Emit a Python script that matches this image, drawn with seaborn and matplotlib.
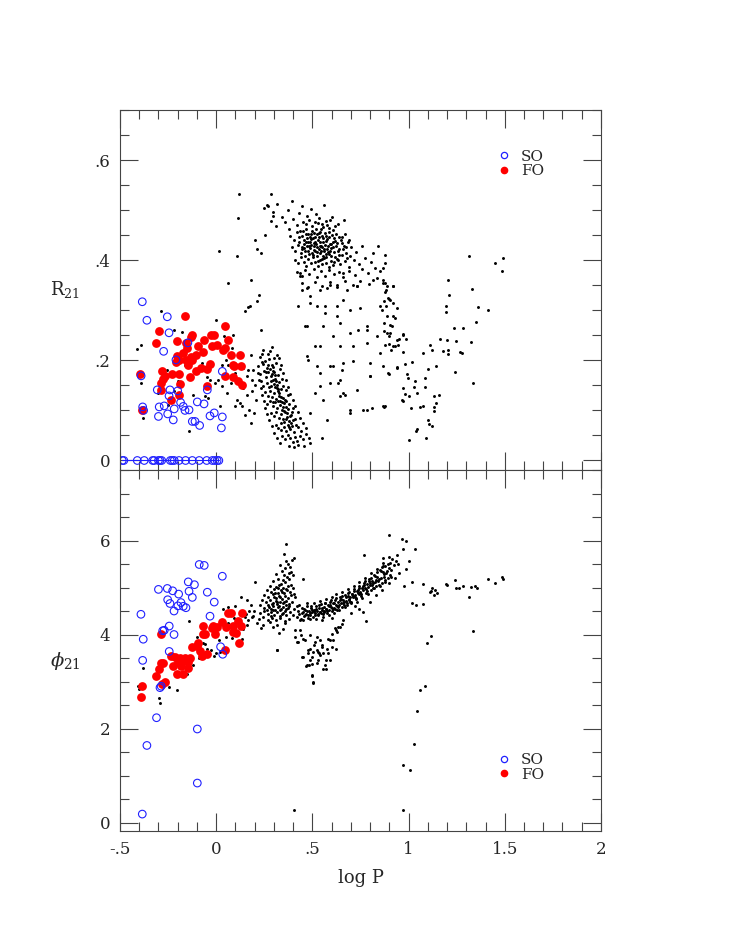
import numpy as np
import pandas as pd
import seaborn as sns
import matplotlib.pyplot as plt
from matplotlib.ticker import MultipleLocator, FuncFormatter
from matplotlib.lines import Line2D

# ---------------- top panel: R21 vs log P ----------------
# field stars (small black dots), read off the figure region by region
top_left = [(-0.41,0.223),(-0.392,0.231),(-0.39,0.155),(-0.382,0.085),(-0.287,0.299),(-0.179,0.257),
    (-0.14,0.059),(-0.197,0.158),(-0.218,0.138),(-0.257,0.181),(-0.11,0.18),(-0.075,0.195),(-0.049,0.167),
    (-0.032,0.161),(-0.006,0.155),(0.011,0.161),(0.028,0.148),(0.042,0.248),(0.063,0.191),(0.08,0.225),
    (0.098,0.108),(0.106,0.121),(0.124,0.115),(0.132,0.109),(0.138,0.145),(0.141,0.185),(0.15,0.091),
    (0.15,0.298),(0.159,0.168),(0.167,0.181),(0.176,0.308),(0.181,0.211),(0.184,0.161),(0.188,0.138),
    (0.02,0.108),(-0.058,0.128),(0.028,0.191),(-0.04,0.125),(0.05,0.2),(0.075,0.155),(0.1,0.175),
    (0.16,0.13),(0.17,0.1),(0.19,0.18),(0.2,0.15),(0.205,0.12),(0.195,0.095),(0.18,0.075),(0.115,0.485),
    (0.12,0.533),(0.015,0.419),(0.106,0.408),(0.063,0.355),(0.21,0.318),(0.167,0.307),(0.233,0.26),
    (0.202,0.441),(0.21,0.423),(0.231,0.415),(0.25,0.505),(0.262,0.511),(0.285,0.533),(0.297,0.488),
    (0.255,0.45),(0.225,0.33),(0.18,0.36),(-0.3,0.135),(-0.25,0.11),(-0.12,0.13),(-0.16,0.19),
    (-0.22,0.26),(-0.09,0.23),(0.0,0.28),(0.055,0.135),(0.09,0.25)]

top_band = [(0.243,0.221),(0.267,0.213),(0.291,0.226),(0.228,0.207),(0.256,0.199),(0.279,0.218),
    (0.302,0.204),(0.318,0.211),(0.219,0.188),(0.237,0.196),(0.262,0.185),(0.274,0.203),(0.288,0.191),
    (0.297,0.178),(0.311,0.195),(0.333,0.183),(0.226,0.172),(0.249,0.179),(0.258,0.166),(0.271,0.176),
    (0.283,0.169),(0.293,0.187),(0.305,0.163),(0.322,0.171),(0.341,0.162),(0.234,0.158),(0.246,0.148),
    (0.266,0.155),(0.277,0.147),(0.286,0.159),(0.299,0.152),(0.308,0.171),(0.314,0.144),(0.327,0.156),
    (0.346,0.149),(0.361,0.141),(0.252,0.136),(0.269,0.129),(0.281,0.139),(0.292,0.127),(0.303,0.135),
    (0.311,0.122),(0.319,0.138),(0.328,0.129),(0.337,0.142),(0.349,0.124),(0.372,0.131),(0.263,0.112),
    (0.279,0.118),(0.294,0.109),(0.306,0.116),(0.317,0.104),(0.324,0.119),(0.333,0.111),(0.342,0.101),
    (0.351,0.114),(0.363,0.106),(0.381,0.113),(0.399,0.104),(0.284,0.094),(0.301,0.088),(0.313,0.097),
    (0.326,0.085),(0.338,0.093),(0.347,0.082),(0.356,0.096),(0.367,0.087),(0.378,0.079),(0.389,0.091),
    (0.411,0.083),(0.309,0.071),(0.322,0.064),(0.336,0.074),(0.352,0.066),(0.361,0.058),(0.372,0.071),
    (0.384,0.062),(0.396,0.069),(0.407,0.056),(0.423,0.066),(0.442,0.059),(0.341,0.049),(0.358,0.042),
    (0.371,0.051),(0.386,0.045),(0.397,0.036),(0.409,0.047),(0.421,0.039),(0.436,0.048),(0.452,0.042),
    (0.468,0.053),(0.379,0.029),(0.402,0.026),(0.427,0.031),(0.455,0.028),(0.489,0.034),(0.298,0.161),
    (0.305,0.146),(0.318,0.151),(0.325,0.134),(0.331,0.119),(0.339,0.126),(0.346,0.107),(0.355,0.099),
    (0.362,0.118),(0.369,0.094),(0.374,0.102),(0.388,0.074),(0.392,0.097),(0.401,0.081),(0.289,0.173),
    (0.281,0.183),(0.272,0.191),(0.301,0.176),(0.311,0.158),(0.321,0.143),(0.343,0.116),(0.356,0.121),
    (0.364,0.083),(0.383,0.088),(0.376,0.067),(0.415,0.071),(0.352,0.076),(0.339,0.061),(0.297,0.116),
    (0.287,0.148),(0.258,0.176),(0.246,0.192),(0.238,0.212),(0.215,0.175),(0.222,0.16),(0.231,0.145),
    (0.238,0.13),(0.247,0.118),(0.255,0.104),(0.266,0.092),(0.276,0.08),(0.29,0.068),(0.301,0.055),
    (0.318,0.045),(0.33,0.035),(0.326,0.205),(0.338,0.19),(0.35,0.175),(0.362,0.16),(0.375,0.146),
    (0.386,0.133),(0.398,0.12),(0.41,0.108),(0.423,0.097),(0.436,0.085),(0.451,0.075),(0.465,0.064),
    (0.48,0.045)]

top_cluster = [(0.268,0.509),(0.297,0.496),(0.318,0.513),(0.341,0.487),(0.374,0.501),(0.392,0.518),
    (0.428,0.494),(0.447,0.508),(0.471,0.489),(0.493,0.503),(0.521,0.492),(0.563,0.511),(0.602,0.486),
    (0.283,0.478),(0.309,0.469),(0.356,0.476),(0.379,0.463),(0.401,0.482),(0.418,0.471),(0.437,0.458),
    (0.452,0.476),(0.466,0.463),(0.481,0.481),(0.497,0.468),(0.509,0.455),(0.528,0.474),(0.544,0.462),
    (0.571,0.478),(0.589,0.465),(0.634,0.472),(0.662,0.481),(0.384,0.449),(0.407,0.441),(0.421,0.456),
    (0.433,0.437),(0.445,0.449),(0.458,0.441),(0.469,0.453),(0.477,0.436),(0.486,0.447),(0.494,0.431),
    (0.503,0.444),(0.513,0.437),(0.522,0.452),(0.531,0.441),(0.539,0.429),(0.548,0.448),(0.557,0.436),
    (0.566,0.455),(0.578,0.443),(0.591,0.432),(0.603,0.451),(0.617,0.439),(0.636,0.447),(0.652,0.434),
    (0.671,0.452),(0.693,0.441),(0.396,0.426),(0.412,0.419),(0.426,0.431),(0.439,0.414),(0.448,0.427),
    (0.461,0.418),(0.472,0.429),(0.481,0.412),(0.489,0.424),(0.498,0.415),(0.507,0.428),(0.516,0.419),
    (0.526,0.409),(0.533,0.423),(0.542,0.414),(0.551,0.427),(0.561,0.418),(0.569,0.406),(0.576,0.422),
    (0.587,0.413),(0.598,0.425),(0.611,0.416),(0.624,0.428),(0.639,0.411),(0.657,0.423),(0.676,0.414),
    (0.702,0.426),(0.728,0.417),(0.757,0.429),(0.408,0.401),(0.423,0.394),(0.441,0.406),(0.456,0.397),
    (0.467,0.389),(0.479,0.403),(0.492,0.394),(0.504,0.407),(0.515,0.396),(0.527,0.388),(0.538,0.401),
    (0.549,0.392),(0.559,0.404),(0.572,0.395),(0.584,0.386),(0.596,0.399),(0.609,0.391),(0.627,0.403),
    (0.645,0.392),(0.668,0.398),(0.689,0.387),(0.714,0.401),(0.741,0.393),(0.772,0.404),(0.803,0.396),
    (0.421,0.376),(0.444,0.369),(0.462,0.381),(0.485,0.372),(0.506,0.383),(0.524,0.367),(0.547,0.378),
    (0.568,0.369),(0.589,0.381),(0.612,0.372),(0.638,0.376),(0.661,0.366),(0.692,0.379),(0.721,0.371),
    (0.756,0.382),(0.788,0.374),(0.823,0.385),(0.851,0.378),(0.448,0.354),(0.476,0.347),(0.513,0.357),
    (0.552,0.349),(0.593,0.356),(0.627,0.346),(0.668,0.358),(0.709,0.351),(0.748,0.359),(0.792,0.352),
    (0.838,0.364),(0.455,0.433),(0.463,0.409),(0.487,0.437),(0.495,0.452),(0.511,0.421),(0.518,0.433),
    (0.529,0.398),(0.536,0.446),(0.545,0.419),(0.553,0.408),(0.564,0.431),(0.573,0.448),(0.582,0.428),
    (0.593,0.419),(0.605,0.437),(0.618,0.407),(0.631,0.419),(0.647,0.441),(0.478,0.419),(0.502,0.411),
    (0.519,0.462),(0.541,0.456),(0.557,0.467),(0.433,0.446),(0.444,0.422),(0.471,0.444),(0.584,0.457),
    (0.609,0.461),(0.622,0.452),(0.664,0.429),(0.683,0.436),(0.698,0.409),(0.452,0.458),(0.468,0.437),
    (0.476,0.452),(0.491,0.442),(0.499,0.459),(0.508,0.434),(0.514,0.447),(0.523,0.427),(0.532,0.455),
    (0.538,0.437),(0.547,0.429),(0.555,0.444),(0.562,0.423),(0.571,0.439),(0.579,0.417),(0.588,0.446),
    (0.596,0.432),(0.606,0.426),(0.614,0.444),(0.626,0.434),(0.641,0.423),(0.655,0.447),(0.674,0.426),
    (0.459,0.425),(0.484,0.428),(0.526,0.416),(0.548,0.403),(0.573,0.413),(0.597,0.408),(0.612,0.396),
    (0.635,0.4),(0.652,0.41),(0.679,0.405),(0.466,0.472),(0.512,0.476),(0.535,0.484),(0.552,0.473),
    (0.578,0.471),(0.594,0.48),(0.618,0.469)]

top_arc = [(0.436,0.368),(0.47,0.345),(0.488,0.328),(0.54,0.341),(0.574,0.345),(0.626,0.351),(0.678,0.341),
    (0.73,0.348),(0.817,0.361),(0.869,0.355),(0.921,0.348),(0.427,0.308),(0.522,0.308),(0.566,0.295),
    (0.626,0.308),(0.695,0.301),(0.747,0.305),(0.851,0.308),(0.886,0.288),(0.47,0.268),(0.557,0.268),
    (0.643,0.275),(0.695,0.255),(0.739,0.261),(0.782,0.268),(0.834,0.248),(0.903,0.255),(0.514,0.228),
    (0.609,0.248),(0.643,0.228),(0.713,0.228),(0.782,0.235),(0.851,0.215),(0.921,0.228),(0.479,0.201),
    (0.54,0.175),(0.591,0.188),(0.661,0.195),(0.713,0.198),(0.799,0.195),(0.869,0.188),(0.54,0.148),
    (0.591,0.155),(0.643,0.161),(0.661,0.135),(0.73,0.141),(0.799,0.168),(0.557,0.121),(0.643,0.128),
    (0.695,0.101),(0.782,0.101),(0.869,0.108),(0.938,0.241),(0.488,0.095),(0.548,0.045),(0.47,0.208),
    (0.513,0.135),(0.574,0.081),(0.522,0.188),(0.609,0.188),(0.652,0.181),(0.669,0.131),(0.635,0.155),
    (0.695,0.095),(0.765,0.101),(0.808,0.105),(0.878,0.108),(0.799,0.168),(0.895,0.175),(0.973,0.251),
    (0.921,0.315),(0.886,0.348),(0.817,0.415),(0.843,0.428),(0.462,0.268),(0.54,0.228),(0.626,0.288),
    (0.661,0.321),(0.782,0.261),(0.86,0.301),(0.73,0.348),(0.566,0.308),(0.488,0.315),(0.444,0.341),
    (0.436,0.375),(0.592,0.351),(0.661,0.375)]

top_right = [(1.316,0.409),(1.492,0.405),(1.449,0.395),(1.484,0.378),(1.203,0.361),(1.328,0.343),
    (1.208,0.33),(1.193,0.308),(1.193,0.296),(1.362,0.307),(1.411,0.3),(1.349,0.277),(1.236,0.265),
    (1.283,0.265),(1.324,0.236),(1.245,0.238),(1.201,0.24),(1.163,0.242),(1.111,0.231),(1.123,0.221),
    (1.073,0.215),(1.18,0.219),(1.205,0.213),(1.205,0.22),(1.266,0.217),(1.276,0.214),(1.243,0.176),
    (1.335,0.155),(1.143,0.188),(1.103,0.183),(1.085,0.165),(1.016,0.196),(0.981,0.193),(0.941,0.185),
    (0.897,0.173),(0.99,0.173),(0.998,0.165),(1.033,0.158),(1.085,0.146),(1.03,0.146),(0.973,0.145),
    (1.042,0.135),(1.003,0.128),(0.981,0.132),(1.132,0.129),(1.16,0.13),(1.143,0.115),(0.964,0.12),
    (0.972,0.119),(1.133,0.106),(1.075,0.109),(1.011,0.105),(1.06,0.107),(1.133,0.098),(0.874,0.107),
    (1.103,0.08),(1.108,0.073),(1.121,0.068),(1.044,0.063),(1.037,0.058),(1.002,0.041),(1.089,0.045),
    (0.876,0.411),(0.876,0.395),(0.869,0.385),(0.865,0.36),(0.88,0.354),(0.917,0.348),(0.882,0.34),
    (0.879,0.337),(0.892,0.325),(0.897,0.323),(0.905,0.32),(0.873,0.318),(0.882,0.308),(0.941,0.305),
    (0.917,0.288),(0.93,0.285),(0.87,0.274),(0.905,0.27),(0.912,0.268),(0.872,0.258),(0.886,0.255),
    (0.969,0.252),(0.9,0.248),(0.986,0.243),(0.95,0.243),(0.88,0.23),(0.9,0.233),(0.93,0.229),
    (0.945,0.23),(0.908,0.221),(0.969,0.217),(0.938,0.186)]

# second overtone (SO) and first overtone (FO) stars
top_so = [(-0.384,0.317),(-0.36,0.28),(-0.254,0.287),(-0.245,0.255),(-0.273,0.218),(-0.209,0.201),
    (-0.147,0.235),(-0.39,0.169),(0.032,0.178),(-0.306,0.141),(-0.24,0.141),(-0.2,0.139),(-0.245,0.129),
    (-0.046,0.141),(-0.382,0.107),(-0.377,0.1),(-0.296,0.107),(-0.27,0.109),(-0.218,0.103),(-0.185,0.116),
    (-0.171,0.108),(-0.162,0.1),(-0.141,0.101),(-0.098,0.117),(-0.063,0.113),(-0.3,0.088),(-0.252,0.093),
    (-0.223,0.081),(-0.124,0.078),(-0.11,0.078),(-0.086,0.07),(-0.032,0.089),(-0.01,0.095),(0.032,0.087),
    (0.027,0.065)]
top_so_zero_logp = [-0.488,-0.48,-0.41,-0.374,-0.33,-0.322,-0.3,-0.292,-0.283,-0.238,-0.228,-0.218,
    -0.193,-0.159,-0.124,-0.088,-0.049,-0.02,-0.007,0.005,0.014]

top_fo = [(-0.16,0.288),(-0.297,0.258),(-0.314,0.235),(-0.202,0.238),(-0.127,0.25),(-0.131,0.246),
    (-0.159,0.235),(-0.065,0.241),(-0.01,0.251),(-0.029,0.25),(0.046,0.269),(0.063,0.24),(0.003,0.231),
    (-0.02,0.228),(-0.093,0.228),(-0.152,0.225),(0.037,0.221),(0.046,0.225),(-0.067,0.217),(-0.107,0.211),
    (-0.131,0.207),(-0.173,0.215),(-0.204,0.208),(-0.192,0.201),(-0.21,0.196),(-0.155,0.201),(-0.124,0.201),
    (-0.148,0.191),(0.075,0.211),(0.122,0.21),(-0.032,0.193),(-0.046,0.183),(-0.077,0.185),(-0.107,0.179),
    (-0.136,0.167),(-0.193,0.173),(-0.228,0.173),(-0.283,0.178),(-0.266,0.169),(-0.278,0.163),
    (-0.288,0.155),(-0.287,0.141),(-0.394,0.173),(-0.387,0.101),(-0.188,0.153),(-0.192,0.131),
    (-0.236,0.121),(-0.049,0.149),(0.046,0.168),(0.086,0.191),(0.094,0.189),(0.127,0.189),(0.086,0.167),
    (0.115,0.159),(0.133,0.151)]

# ---------------- bottom panel: phi21 vs log P ----------------
bot_left = [(-0.408,2.9),(-0.4,2.85),(-0.382,3.29),(-0.296,2.64),(-0.29,2.55),(-0.244,2.89),(-0.202,2.81),
    (-0.14,4.28),(-0.07,3.83),(-0.06,3.8),(-0.029,3.67),(-0.01,3.55),(0.0,3.6),(0.015,3.88),(0.02,3.62),
    (0.037,4.55),(0.063,4.59),(0.1,4.6),(0.095,4.35),(0.131,4.79),(0.158,4.73),(0.12,4.3),(0.15,4.38),
    (0.133,3.91),(0.1,4.0),(0.08,3.92),(-0.153,3.15),(-0.12,3.35),(-0.09,3.5),(-0.05,3.7),(0.05,3.95),
    (0.17,4.5),(0.19,4.4),(0.16,4.2),(0.14,4.12),(0.18,4.62),(-0.2,3.55),(-0.1,3.95),(0.06,4.25)]

bot_cluster = [(0.364,5.92),(0.353,5.71),(0.405,5.62),(0.362,5.56),(0.392,5.58),(0.334,5.47),(0.371,5.51),
    (0.383,5.43),(0.344,5.36),(0.358,5.41),(0.391,5.34),(0.312,5.28),(0.352,5.26),(0.377,5.31),(0.401,5.27),
    (0.323,5.19),(0.346,5.16),(0.366,5.22),(0.381,5.18),(0.453,5.19),(0.202,5.12),(0.297,5.13),(0.336,5.08),
    (0.359,5.12),(0.388,5.06),(0.281,5.04),(0.309,5.01),(0.327,5.06),(0.348,4.99),(0.371,5.03),(0.397,4.98),
    (0.262,4.95),(0.287,4.91),(0.303,4.97),(0.322,4.89),(0.338,4.94),(0.353,4.88),(0.369,4.95),(0.386,4.9),
    (0.404,4.86),(0.248,4.84),(0.272,4.8),(0.294,4.86),(0.311,4.78),(0.326,4.83),(0.341,4.76),(0.356,4.82),
    (0.374,4.78),(0.391,4.84),(0.412,4.79),(0.236,4.74),(0.259,4.69),(0.279,4.73),(0.296,4.67),(0.309,4.72),
    (0.318,4.64),(0.331,4.7),(0.347,4.66),(0.362,4.71),(0.378,4.65),(0.396,4.7),(0.226,4.62),(0.247,4.57),
    (0.268,4.62),(0.283,4.55),(0.297,4.6),(0.306,4.53),(0.319,4.58),(0.334,4.52),(0.349,4.59),(0.363,4.54),
    (0.381,4.6),(0.402,4.55),(0.418,4.61),(0.198,4.49),(0.229,4.45),(0.251,4.5),(0.268,4.43),(0.286,4.48),
    (0.301,4.41),(0.317,4.47),(0.331,4.4),(0.346,4.46),(0.362,4.42),(0.383,4.48),(0.397,4.41),(0.188,4.37),
    (0.221,4.32),(0.246,4.38),(0.272,4.31),(0.292,4.36),(0.313,4.3),(0.334,4.35),(0.357,4.29),(0.379,4.34),
    (0.211,4.24),(0.243,4.2),(0.278,4.26),(0.318,4.21),(0.358,4.24),(0.232,4.13),(0.298,4.16),(0.347,4.11),
    (0.329,4.04),(0.318,3.67),(0.168,4.3),(0.157,4.43),(0.302,4.79),(0.315,4.69),(0.325,4.61),(0.338,4.55),
    (0.289,4.65),(0.276,4.58),(0.352,4.69),(0.365,4.63),(0.305,4.88),(0.332,4.8),(0.344,4.9),(0.361,4.97),
    (0.321,4.99),(0.295,4.52),(0.341,4.44),(0.358,4.51),(0.373,4.56),(0.283,4.4),(0.262,4.52)]

bot_band = [(0.418,4.38),(0.426,4.51),(0.432,4.44),(0.439,4.33),(0.445,4.57),(0.451,4.47),(0.457,4.39),
    (0.463,4.53),(0.468,4.44),(0.474,4.61),(0.479,4.35),(0.484,4.49),(0.489,4.42),(0.494,4.56),(0.499,4.47),
    (0.504,4.38),(0.509,4.53),(0.513,4.45),(0.518,4.61),(0.523,4.5),(0.528,4.41),(0.533,4.56),(0.538,4.48),
    (0.543,4.64),(0.548,4.52),(0.553,4.43),(0.558,4.59),(0.563,4.5),(0.568,4.67),(0.573,4.55),(0.578,4.46),
    (0.583,4.62),(0.588,4.53),(0.593,4.7),(0.598,4.58),(0.603,4.49),(0.608,4.66),(0.613,4.57),(0.618,4.74),
    (0.623,4.62),(0.628,4.53),(0.633,4.7),(0.638,4.63),(0.643,4.79),(0.648,4.67),(0.653,4.58),(0.658,4.74),
    (0.663,4.69),(0.668,4.84),(0.673,4.72),(0.678,4.63),(0.683,4.81),(0.688,4.75),(0.693,4.9),(0.698,4.79),
    (0.703,4.7),(0.708,4.87),(0.713,4.82),(0.718,4.96),(0.723,4.85),(0.728,4.76),(0.733,4.93),(0.738,4.88),
    (0.743,5.03),(0.748,4.91),(0.753,4.82),(0.758,5.0),(0.763,4.95),(0.768,5.1),(0.773,4.98),(0.778,4.88),
    (0.783,5.07),(0.789,5.02),(0.794,5.18),(0.799,5.05),(0.804,4.95),(0.81,5.14),(0.816,5.09),(0.821,5.27),
    (0.827,5.12),(0.833,5.03),(0.838,5.23),(0.844,5.18),(0.85,5.37),(0.856,5.21),(0.862,5.1),(0.867,5.33),
    (0.873,5.28),(0.879,5.46),(0.885,5.3),(0.891,5.2),(0.897,5.42),(0.903,5.52),(0.909,5.38),(0.916,5.6),
    (0.924,5.47),(0.933,5.56),(0.945,5.5),(0.47,4.51),(0.49,4.46),(0.51,4.49),(0.52,4.54),(0.54,4.47),
    (0.55,4.57),(0.57,4.55),(0.585,4.6),(0.6,4.57),(0.615,4.67),(0.63,4.61),(0.645,4.73),(0.66,4.66),
    (0.675,4.8),(0.69,4.73),(0.705,4.86),(0.72,4.8),(0.735,4.95),(0.75,4.88),(0.765,5.04),(0.78,4.96),
    (0.795,5.13),(0.81,5.05),(0.825,5.24),(0.84,5.13),(0.855,5.36),(0.87,5.22),(0.445,4.46),(0.46,4.42),
    (0.5,4.52),(0.53,4.44),(0.56,4.48),(0.59,4.63),(0.62,4.55),(0.65,4.76),(0.68,4.67),(0.71,4.79),
    (0.74,4.87),(0.77,5.06),(0.8,5.1),(0.83,5.16),(0.86,5.44),(0.89,5.35),(0.77,5.69),(0.865,5.62),
    (0.9,6.11),(0.964,6.03),(0.985,5.99),(0.973,5.83),(1.033,5.81),(1.002,5.56),(0.985,5.4),(0.94,5.7),
    (0.765,4.48),(0.779,4.29),(0.652,4.22),(0.66,4.3),(0.622,4.09),(0.7,4.45),(0.74,4.55),(0.8,4.7),
    (0.83,4.85),(0.86,4.95),(0.9,5.1),(0.93,5.2),(0.6,4.35),(0.55,4.3),(0.72,4.6),(0.95,5.3),
    (0.43,4.62),(0.45,4.3),(0.47,4.66),(0.49,4.33),(0.51,4.68),(0.52,4.34),(0.54,4.71),(0.555,4.38),
    (0.57,4.76),(0.585,4.42),(0.6,4.8),(0.61,4.45),(0.625,4.86),(0.64,4.52),(0.655,4.9),(0.67,4.58),
    (0.685,4.97),(0.7,4.66),(0.715,5.04),(0.73,4.7),(0.745,5.12),(0.76,4.78),(0.775,5.2),(0.79,4.86),
    (0.805,5.3),(0.82,4.98),(0.835,5.4),(0.85,5.04),(0.865,5.52),(0.88,5.12),(0.9,5.64),(0.91,5.22),
    (0.455,4.55),(0.475,4.41),(0.495,4.6),(0.515,4.42),(0.535,4.63),(0.545,4.45),(0.565,4.66),(0.575,4.5),
    (0.595,4.73),(0.605,4.54),(0.625,4.77),(0.635,4.58),(0.655,4.82),(0.665,4.62),(0.685,4.88),(0.695,4.7),
    (0.715,4.93),(0.725,4.78),(0.745,4.98),(0.755,4.86),(0.775,5.14),(0.785,4.93),(0.805,5.2),(0.815,5.0),
    (0.835,5.32),(0.845,5.06),(0.865,5.46),(0.875,5.17),(0.895,5.5),(0.905,5.27)]

bot_arm = [(0.505,2.99),(0.5,3.11),(0.467,3.33),(0.557,3.26),(0.569,3.26),(0.488,3.45),(0.531,3.45),
    (0.583,3.6),(0.6,3.74),(0.609,3.88),(0.626,4.06),(0.643,4.16),(0.444,3.52),(0.479,3.67),(0.462,3.88),
    (0.439,3.99),(0.418,3.84),(0.41,4.09),(0.522,3.67),(0.548,3.77),(0.496,3.52),(0.54,3.56),(0.574,3.7),
    (0.592,3.88),(0.514,3.84),(0.488,3.99),(0.474,3.35),(0.526,3.4),(0.536,3.6),(0.496,3.38),(0.436,4.3),
    (0.436,4.09),(0.41,3.95),(0.453,3.91),(0.427,3.84),(0.488,3.7),(0.522,3.95),(0.54,3.88),(0.508,3.77),
    (0.548,3.74),(0.583,3.91),(0.6,4.02),(0.618,4.13),(0.635,4.16),(0.453,3.52),(0.479,3.6),(0.505,3.63),
    (0.531,3.63),(0.557,3.6),(0.571,3.45),(0.592,3.45),(0.623,3.7),(0.484,3.35),(0.566,3.35),(0.496,3.13),
    (0.505,2.97),(0.314,3.67)]

bot_right = [(1.016,5.12),(0.978,5.03),(1.076,5.08),(1.12,4.98),(1.115,4.93),(1.132,4.84),(1.14,4.95),
    (1.11,4.9),(1.15,4.88),(1.194,5.07),(1.2,5.05),(1.241,5.16),(1.245,5.0),(1.26,4.99),(1.284,5.03),
    (1.323,5.01),(1.345,5.03),(1.355,5.0),(1.414,5.18),(1.449,5.1),(1.484,5.23),(1.49,5.18),(1.016,4.67),
    (1.04,4.62),(1.076,4.65),(1.316,4.79),(1.117,3.96),(1.094,3.81),(1.336,4.07),(1.088,2.91),(1.062,2.83),
    (1.045,2.37),(1.03,1.67),(0.973,1.22),(1.008,1.11),(0.969,0.26),(0.404,0.26)]

bot_so = [(-0.088,5.49),(-0.062,5.47),(0.032,5.24),(-0.145,5.12),(-0.113,5.06),(-0.3,4.96),(-0.254,4.98),
    (-0.226,4.93),(-0.195,4.86),(-0.141,4.92),(-0.046,4.9),(-0.124,4.79),(-0.252,4.74),(-0.24,4.66),
    (-0.183,4.68),(-0.199,4.61),(-0.171,4.6),(-0.157,4.57),(-0.219,4.5),(-0.01,4.69),(-0.391,4.43),
    (-0.032,4.39),(-0.27,4.09),(-0.244,4.18),(-0.278,4.08),(-0.219,4.0),(-0.379,3.9),(-0.244,3.64),
    (-0.382,3.45),(0.023,3.74),(0.034,3.58),(-0.292,2.87),(-0.286,2.9),(-0.31,2.23),(-0.098,1.99),
    (-0.36,1.64),(-0.098,0.84),(-0.384,0.18)]

bot_fo = [(-0.288,4.01),(-0.067,4.18),(-0.07,4.01),(-0.018,4.18),(-0.006,4.01),(0.002,4.16),(0.032,4.27),
    (0.051,4.16),(0.063,4.46),(0.075,4.46),(0.133,4.45),(0.112,4.28),(0.089,4.18),(0.127,4.18),(0.089,4.06),
    (0.12,3.82),(0.046,3.67),(-0.049,3.58),(-0.093,3.81),(-0.101,3.76),(-0.127,3.74),(-0.084,3.64),
    (-0.076,3.54),(-0.236,3.54),(-0.214,3.52),(-0.188,3.51),(-0.162,3.51),(-0.136,3.51),(-0.171,3.45),
    (-0.197,3.42),(-0.145,3.42),(-0.226,3.33),(-0.183,3.33),(-0.205,3.17),(-0.174,3.17),(-0.148,3.28),
    (-0.287,3.4),(-0.278,3.4),(-0.297,3.26),(-0.314,3.11),(-0.283,2.94),(-0.266,3.0),(-0.387,2.9),
    (-0.393,2.67),(-0.024,4.14),(-0.058,4.02),(0.101,4.03)]


def to_df(pairs):
    return pd.DataFrame(pairs, columns=["logP", "val"])


top_field = to_df(top_left + top_band + top_cluster + top_arc + top_right)
bot_field = to_df(bot_left + bot_cluster + bot_band + bot_arm + bot_right)
top_so_df = to_df(top_so + [(p, 0.0) for p in top_so_zero_logp])
top_fo_df = to_df(top_fo)
bot_so_df = to_df(bot_so)
bot_fo_df = to_df(bot_fo)

sns.set_style("ticks")
plt.rcParams['font.family'] = ['DejaVu Serif']
plt.rcParams['mathtext.fontset'] = 'dejavuserif'

BLUE = '#2020ff'


def nolead(v, pos):
    s = f"{v:g}"
    if s.startswith("0."):
        s = s[1:]
    elif s.startswith("-0."):
        s = "-" + s[2:]
    return s


fig = plt.figure(figsize=(7.36, 9.52), dpi=100)
ax1 = fig.add_axes([0.163, 0.5063, 0.6535, 0.3782])
ax2 = fig.add_axes([0.163, 0.1271, 0.6535, 0.3792])

for ax, field, so, fo in [(ax1, top_field, top_so_df, top_fo_df), (ax2, bot_field, bot_so_df, bot_fo_df)]:
    sns.scatterplot(data=field, x="logP", y="val", ax=ax, color='black', s=4.5, linewidth=0, legend=False)
    sns.scatterplot(data=fo, x="logP", y="val", ax=ax, color='red', s=40, linewidth=0, legend=False)
    sns.scatterplot(data=so, x="logP", y="val", ax=ax, facecolor='none', edgecolor=BLUE, s=30,
                    linewidth=0.8, legend=False)

# the zero-amplitude SO stars sit on a line at R21 = 0
zx = sorted(top_so_zero_logp)
ax1.plot([zx[0], zx[-1]], [0, 0], color=BLUE, lw=0.8, zorder=1)

ax1.set_xlim(-0.5, 2)
ax2.set_xlim(-0.5, 2)
ax1.set_ylim(-0.019, 0.70)
ax2.set_ylim(-0.18, 7.5)

ax1.yaxis.set_major_locator(MultipleLocator(0.2))
ax1.yaxis.set_minor_locator(MultipleLocator(0.05))
ax2.yaxis.set_major_locator(MultipleLocator(2))
ax2.yaxis.set_minor_locator(MultipleLocator(0.5))
for ax in (ax1, ax2):
    ax.xaxis.set_major_locator(MultipleLocator(0.5))
    ax.xaxis.set_minor_locator(MultipleLocator(0.1))
    ax.xaxis.set_major_formatter(FuncFormatter(nolead))
    ax.yaxis.set_major_formatter(FuncFormatter(nolead))
    ax.tick_params(which='both', direction='in', top=True, right=True, width=0.8,
                   color='#444444', labelsize=12, pad=7)
    ax.tick_params(which='major', length=13)
    ax.tick_params(which='minor', length=6.5)
    for sp in ax.spines.values():
        sp.set_linewidth(0.8)
        sp.set_color('#444444')
    ax.set_xlabel("")

ax1.tick_params(labelbottom=False)

ax1.set_ylabel("R$_{21}$", rotation=0, fontsize=13, ha='center', va='center')
ax1.yaxis.set_label_coords(-0.114, 0.5)
ax2.set_ylabel("$\\phi_{21}$", rotation=0, fontsize=14, ha='center', va='center')
ax2.yaxis.set_label_coords(-0.114, 0.47)
ax2.set_xlabel("log P", fontsize=13, labelpad=8)

handles = [Line2D([], [], marker='o', ls='', mfc='none', mec=BLUE, ms=4.5, mew=0.9),
           Line2D([], [], marker='o', ls='', mfc='red', mec='red', ms=4.5)]
for ax, y0 in [(ax1, 0.89), (ax2, 0.216)]:
    ax.legend(handles, ["SO", "FO"], loc='upper left', bbox_to_anchor=(0.783, y0), frameon=False,
              fontsize=11, handlelength=1.0, handletextpad=0.6, labelspacing=0.05,
              borderpad=0, borderaxespad=0)

fig.savefig("out.png", dpi=100)
